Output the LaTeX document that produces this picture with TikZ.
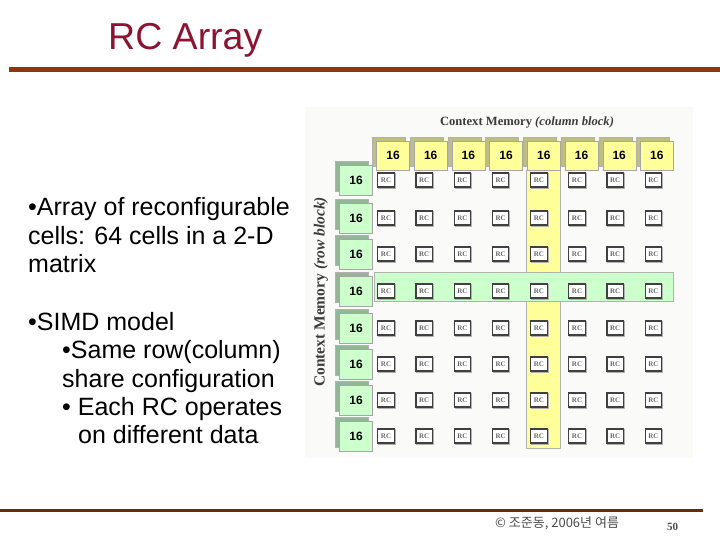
\documentclass[tikz,border=0pt]{standalone}
\usepackage{fontspec}
\setmainfont{Liberation Sans}
\newfontfamily\krfont{Noto Sans CJK KR}
\newfontfamily\serifb{Liberation Serif}
\usetikzlibrary{shadows}
\definecolor{titlecol}{RGB}{140,20,50}
\definecolor{rulecol}{RGB}{140,56,12}
\definecolor{rulecolb}{RGB}{110,40,10}
\definecolor{yelface}{RGB}{255,255,153}
\definecolor{yelbevel}{RGB}{190,190,130}
\definecolor{grnface}{RGB}{204,255,204}
\definecolor{grnbevel}{RGB}{150,180,150}
\definecolor{panelbg}{RGB}{250,250,248}
\definecolor{lblcol}{RGB}{60,60,60}
\tikzset{
  colblock/.style={draw=gray!70, fill=yelface, minimum width=33pt, minimum height=29pt, inner sep=0pt,
    font=\bfseries\fontsize{12}{14}\selectfont,
    copy shadow={shadow xshift=-4pt, shadow yshift=4pt, fill=yelbevel, draw=gray!60}},
  rowblock/.style={draw=gray!70, fill=grnface, minimum width=33pt, minimum height=30pt, inner sep=0pt,
    font=\bfseries\fontsize{12}{14}\selectfont,
    copy shadow={shadow xshift=-4pt, shadow yshift=4pt, fill=grnbevel, draw=gray!60}},
  rcbox/.style={draw=black!75, line width=1.1pt, fill=white, minimum width=16.5pt, minimum height=14pt, inner sep=0pt,
    font=\serifb\bfseries\fontsize{7}{8}\selectfont, text=black!60,
    copy shadow={shadow xshift=1pt, shadow yshift=-1pt, fill=gray!60, draw=gray!60}},
  bodytxt/.style={anchor=base west, inner sep=0pt, font=\fontsize{25}{28}\selectfont},
}
\begin{document}
\begin{tikzpicture}[x=1pt,y=-1pt]
\useasboundingbox (0,0) rectangle (720,540);
% title and rules
\node[anchor=base west, inner sep=0pt, font=\fontsize{37.5}{42}\selectfont, text=titlecol] (title) at (108,50) {RC Array};
\fill[rulecol] (9,67.5) rectangle (720,72.5);
\fill[rulecolb] (0,508.5) rectangle (703,512);
% body text
\node[bodytxt] (t1) at (28,215) {•Array of reconfigurable};
\node[bodytxt] (t2) at (28,244) {cells: 64 cells in a 2-D};
\node[bodytxt] (t3) at (28,272) {matrix};
\node[bodytxt] (t4) at (28,330) {•SIMD model};
\node[bodytxt] (t5) at (62,358) {•Same row(column)};
\node[bodytxt] (t6) at (62,387) {share configuration};
\node[bodytxt] (t7) at (62,415) {• Each RC operates};
\node[bodytxt] (t8) at (78,443) {on different data};
% figure panel
\fill[panelbg] (305,107) rectangle (693,458);
\node[font=\serifb\bfseries\fontsize{12.6}{14}\selectfont, text=lblcol] (toplbl) at (527,122) {Context Memory \textit{(column block)}};
\node[rotate=90, font=\serifb\bfseries\fontsize{15.5}{17}\selectfont, text=lblcol] (sidelbl) at (321,292) {Context Memory \textit{(row block)}};
% highlight strips
\filldraw[fill=yelface, draw=gray!60] (526,170) rectangle (560,448);
\filldraw[fill=grnface, draw=gray!60] (374,272) rectangle (673,301);
% column blocks
\foreach \i in {1,...,8}{
  \pgfmathsetmacro\cx{393+37.7*(\i-1)}
  \node[colblock] (c\i) at (\cx,155.5) {16};
}
% row blocks and RC cells
\foreach \ry [count=\j] in {180,218,254,291,328,364,400,436}{
  \node[rowblock] (r\j) at (356,\ry) {16};
  \foreach \i in {1,...,8}{
    \pgfmathsetmacro\rx{386+38.2*(\i-1)}
    \node[rcbox] (rc\j-\i) at (\rx,\ry) {RC};
  }
}
% footer
\node[anchor=base west, inner sep=0pt, font=\krfont\fontsize{13}{15}\selectfont, text=black!70] (foot) at (495,527) {© 조준동, 2006년 여름};
\node[anchor=base west, inner sep=0pt, font=\serifb\bfseries\fontsize{11}{13}\selectfont, text=black!70] (pnum) at (667,530) {50};
\end{tikzpicture}
\end{document}
